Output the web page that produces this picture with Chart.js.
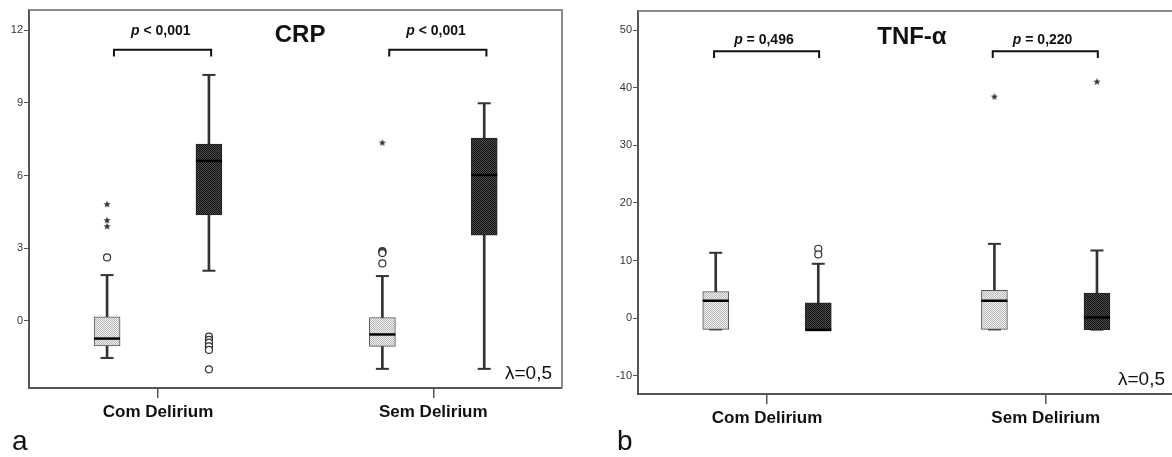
<!DOCTYPE html>
<html>
<head>
<meta charset="utf-8">
<script src="https://cdn.jsdelivr.net/npm/chart.js@4.4.1/dist/chart.umd.min.js"></script>
<style>
html, body { margin: 0; padding: 0; background: #fff; overflow: hidden; width: 1172px; height: 457px; }
#panelA { position: absolute; left: 0; top: 0; }
#panelB { position: absolute; left: 608px; top: 0; }
</style>
</head>
<body>
<canvas id="panelA" width="572" height="457"></canvas>
<canvas id="panelB" width="577" height="457"></canvas>
<script>
const categories = ['Com Delirium', 'Sem Delirium'];

// box summaries per category: [min, q1, median, q3, max]
const crpLight = [[-1.53, -1.03, -0.73, 0.17, 1.89], [-1.98, -1.05, -0.56, 0.14, 1.85]];
const crpDark = [[2.07, 4.37, 6.6, 7.3, 10.15], [-1.98, 3.54, 6.02, 7.54, 8.98]];
const crpLightOutliers = [[2.62], [2.88, 2.84, 2.8, 2.37]];
const crpDarkOutliers = [[-0.65, -0.78, -0.9, -1.05, -1.2, -2.0], []];
const crpLightExtremes = [[4.82, 4.16, 3.91], [7.36]];
const crpDarkExtremes = [[], []];
const crpTicks = [0, 3, 6, 9, 12];
const crpPValues = ['< 0,001', '< 0,001'];

const tnfLight = [[-1.96, -1.96, 3.02, 4.63, 11.35], [-1.96, -1.96, 3.02, 4.81, 12.9]];
const tnfDark = [[-2.05, -2.05, -2.05, 2.67, 9.44], [-2, -2, 0.12, 4.34, 11.75]];
const tnfLightOutliers = [[], []];
const tnfDarkOutliers = [[12.05, 11.06], []];
const tnfLightExtremes = [[], [38.5]];
const tnfDarkExtremes = [[], [41.1]];
const tnfTicks = [-10, 0, 10, 20, 30, 40, 50];
const tnfPValues = ['= 0,496', '= 0,220'];

const FONT = '"Liberation Sans", Arial, sans-serif';

function dots(base, dot) {
    const c = document.createElement('canvas');
    c.width = c.height = 2;
    const g = c.getContext('2d');
    g.fillStyle = base;
    g.fillRect(0, 0, 2, 2);
    g.fillStyle = dot;
    g.fillRect(0, 0, 1, 1);
    g.fillRect(1, 1, 1, 1);
    return g.createPattern(c, 'repeat');
}
const lightFill = dots('#efefef', '#b9b9b9');
const darkFill = dots('#4d4d4d', '#111111');

// small filled star used for extreme values
function starImage() {
    const c = document.createElement('canvas');
    c.width = c.height = 8;
    const g = c.getContext('2d');
    g.fillStyle = '#333';
    g.beginPath();
    for (let k = 0; k < 10; k++) {
        const r = k % 2 ? 1.6 : 3.8;
        const ang = -Math.PI / 2 + k * Math.PI / 5;
        g.lineTo(4 + r * Math.cos(ang), 4.3 + r * Math.sin(ang));
    }
    g.closePath();
    g.fill();
    return c;
}
const star = starImage();

function at(stats, off, k) {
    return stats.map((s, i) => ({ x: i + off, y: s[k] }));
}
function spread(groups, off) {
    return groups.flatMap((arr, i) => arr.map(v => ({ x: i + off, y: v })));
}

function boxDatasets(stats, outliers, extremes, off, fill, border) {
    return [
        { type: 'bar', data: stats.map((s, i) => ({ x: i + off, y: [s[0], s[4]] })),
          backgroundColor: '#333', barThickness: 2, grouped: false, order: 5 },
        { type: 'scatter', data: [...at(stats, off, 0), ...at(stats, off, 4)],
          pointStyle: 'line', pointRadius: 6.5, pointBorderColor: '#333', pointBorderWidth: 2, order: 4 },
        { type: 'bar', data: stats.map((s, i) => ({ x: i + off, y: [s[1], s[3]] })),
          backgroundColor: fill, borderColor: border, borderWidth: 1, borderSkipped: false,
          barThickness: 26, grouped: false, order: 3 },
        { type: 'scatter', data: at(stats, off, 2),
          pointStyle: 'line', pointRadius: 13, pointBorderColor: '#000', pointBorderWidth: 2.5, order: 2 },
        { type: 'scatter', data: spread(outliers, off),
          pointStyle: 'circle', pointRadius: 3.5, pointBackgroundColor: '#fff',
          pointBorderColor: '#333', pointBorderWidth: 1.2, order: 1 },
        { type: 'scatter', data: spread(extremes, off),
          pointStyle: star, pointRadius: 4, order: 1 }
    ];
}

function bracketDatasets(span, top, leg) {
    return categories.map((c, i) => ({
        type: 'line',
        data: [
            { x: i + span[0], y: leg }, { x: i + span[0], y: top },
            { x: i + span[1], y: top }, { x: i + span[1], y: leg }
        ],
        borderColor: '#111', borderWidth: 2, pointRadius: 0, fill: false, order: 0
    }));
}

const annotate = {
    id: 'annotate',
    afterDatasetsDraw(chart, args, o) {
        const { ctx, chartArea: a, scales: { x, y } } = chart;
        ctx.save();
        ctx.strokeStyle = '#8a8a8a';
        ctx.lineWidth = 2;
        ctx.beginPath();
        ctx.moveTo(a.left, a.top);
        ctx.lineTo(a.right, a.top);
        ctx.lineTo(a.right, a.bottom);
        ctx.stroke();

        ctx.fillStyle = '#111';
        ctx.textBaseline = 'alphabetic';
        ctx.textAlign = 'center';
        ctx.font = 'bold 24px ' + FONT;
        ctx.fillText(o.title, x.getPixelForValue(o.titleAt[0]), y.getPixelForValue(o.titleAt[1]));

        ctx.textAlign = 'left';
        o.pValues.forEach((txt, i) => {
            const cx = x.getPixelForValue(i + o.pAt[0]);
            const by = y.getPixelForValue(o.pAt[1]);
            ctx.font = 'italic bold 14px ' + FONT;
            const w1 = ctx.measureText('p').width;
            ctx.font = 'bold 14px ' + FONT;
            const rest = ' ' + txt;
            const w2 = ctx.measureText(rest).width;
            const sx = cx - (w1 + w2) / 2;
            ctx.font = 'italic bold 14px ' + FONT;
            ctx.fillText('p', sx, by);
            ctx.font = 'bold 14px ' + FONT;
            ctx.fillText(rest, sx + w1, by);
        });

        ctx.font = '19px ' + FONT;
        ctx.textAlign = 'right';
        ctx.fillText('λ=0,5', a.right - 10, a.bottom - 9);

        ctx.font = '28px ' + FONT;
        ctx.textAlign = 'left';
        ctx.fillText(o.letter, o.letterX, 450);
        ctx.restore();
    }
};

function noPadding(s) {
    s.paddingTop = s.paddingBottom = s.paddingLeft = s.paddingRight = 0;
}

function makePanel(id, p) {
    const datasets = [
        ...boxDatasets(p.light, p.lightOut, p.lightExt, -p.offset, lightFill, '#555'),
        ...boxDatasets(p.dark, p.darkOut, p.darkExt, p.offset, darkFill, '#222'),
        ...bracketDatasets(p.bracketSpan, p.bracketTop, p.bracketLeg)
    ];
    return new Chart(document.getElementById(id), {
        type: 'bar',
        data: { datasets },
        plugins: [annotate],
        options: {
            responsive: false,
            animation: false,
            layout: { padding: p.padding, autoPadding: false },
            plugins: {
                legend: { display: false },
                tooltip: { enabled: false },
                annotate: {
                    title: p.title, titleAt: p.titleAt, pValues: p.pValues, pAt: p.pAt,
                    letter: p.letter, letterX: p.letterX
                }
            },
            scales: {
                x: {
                    type: 'linear', min: p.xRange[0], max: p.xRange[1], offset: false,
                    afterBuildTicks: s => { s.ticks = categories.map((c, i) => ({ value: i })); },
                    afterFit: s => { s.height = 40; noPadding(s); },
                    ticks: {
                        callback: v => categories[v], color: '#111', padding: 4,
                        autoSkip: false, maxRotation: 0,
                        font: { family: FONT, size: 17, weight: 'bold' }
                    },
                    grid: { drawOnChartArea: false, offset: false, tickLength: 10, color: '#555', lineWidth: 1.5 },
                    border: { color: '#555', width: 2 }
                },
                y: {
                    type: 'linear', min: p.yRange[0], max: p.yRange[1],
                    afterBuildTicks: s => { s.ticks = p.ticks.map(v => ({ value: v })); },
                    afterFit: s => { s.width = p.yWidth; noPadding(s); },
                    ticks: { color: '#333', padding: 1, font: { family: FONT, size: 11 } },
                    grid: { drawOnChartArea: false, tickLength: 5, color: '#555' },
                    border: { color: '#555', width: 2 }
                }
            }
        }
    });
}

makePanel('panelA', {
    light: crpLight, dark: crpDark,
    lightOut: crpLightOutliers, darkOut: crpDarkOutliers,
    lightExt: crpLightExtremes, darkExt: crpDarkExtremes,
    ticks: crpTicks, pValues: crpPValues,
    offset: 0.185,
    xRange: [-0.4686, 1.4675], yRange: [-2.77, 12.83],
    yWidth: 29, padding: { left: 0, top: 10, right: 10, bottom: 29 },
    bracketSpan: [-0.16, 0.193], bracketTop: 11.19, bracketLeg: 10.91,
    title: 'CRP', titleAt: [0.516, 11.52], pAt: [0.01, 11.8],
    letter: 'a', letterX: 12
});

makePanel('panelB', {
    light: tnfLight, dark: tnfDark,
    lightOut: tnfLightOutliers, darkOut: tnfDarkOutliers,
    lightExt: tnfLightExtremes, darkExt: tnfDarkExtremes,
    ticks: tnfTicks, pValues: tnfPValues,
    offset: 0.184,
    xRange: [-0.4629, 1.464], yRange: [-13.18, 53.35],
    yWidth: 30, padding: { left: 0, top: 11, right: 10, bottom: 23 },
    bracketSpan: [-0.19, 0.187], bracketTop: 46.34, bracketLeg: 45.19,
    title: 'TNF-α', titleAt: [0.52, 47.6], pAt: [-0.011, 47.7],
    letter: 'b', letterX: 9
});
</script>
</body>
</html>
